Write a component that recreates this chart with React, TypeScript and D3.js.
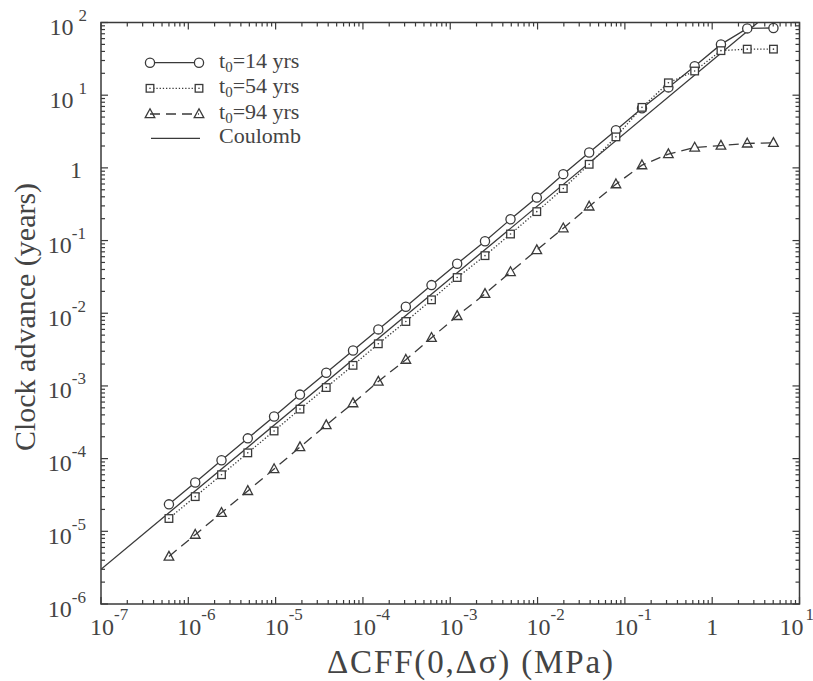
import React from "react";
import * as d3 from "d3";

// ΔCFF values (MPa) of the computed points
const stressMPa = [
  6.0e-7, 1.2e-6, 2.4e-6, 4.8e-6, 9.6e-6, 1.9e-5, 3.8e-5, 7.7e-5, 1.5e-4, 3.1e-4,
  6.1e-4, 1.2e-3, 2.5e-3, 4.9e-3, 9.8e-3, 0.0197, 0.039, 0.079, 0.157, 0.315,
  0.63, 1.26, 2.52, 5.03,
];
// clock advance (years) for t0 = 14 yrs
const advance14 = [
  2.35e-5, 4.7e-5, 9.5e-5, 1.9e-4, 3.8e-4, 7.6e-4, 1.52e-3, 3.08e-3, 6.0e-3, 0.0123,
  0.0244, 0.048, 0.098, 0.196, 0.39, 0.82, 1.63, 3.3, 6.6, 12.8,
  25, 50, 83, 84,
];
// t0 = 54 yrs
const advance54 = [
  1.5e-5, 3.0e-5, 6.0e-5, 1.2e-4, 2.4e-4, 4.8e-4, 9.5e-4, 1.92e-3, 3.8e-3, 7.7e-3,
  0.0153, 0.031, 0.062, 0.123, 0.25, 0.52, 1.12, 2.67, 6.8, 14.8,
  21.5, 41, 43, 43,
];
// t0 = 94 yrs
const advance94 = [
  4.5e-6, 9.0e-6, 1.8e-5, 3.6e-5, 7.2e-5, 1.44e-4, 2.9e-4, 5.8e-4, 1.15e-3, 2.3e-3,
  4.6e-3, 9.2e-3, 0.0185, 0.037, 0.074, 0.148, 0.295, 0.597, 1.09, 1.55,
  1.91, 2.03, 2.17, 2.21,
];
// Coulomb reference line
const coulombStress = [1e-7, 10];
const coulombAdvance = [3e-6, 300];

const xTickExps = [-7, -6, -5, -4, -3, -2, -1, 0, 1];
const yTickExps = [-6, -5, -4, -3, -2, -1, 0, 1, 2];
const legendLabels = ["14", "54", "94"];

const INK = "#3a3a3a";
const TXT = "#444";
const FONT = "Liberation Serif, Times New Roman, Times, serif";

export default function App() {
  const W = 813;
  const H = 681;
  const L = 101, R = 799.5, T = 22.5, B = 604;
  const x = d3.scaleLog().domain([1e-7, 10]).range([L, R]);
  const y = d3.scaleLog().domain([1e-6, 100]).range([B, T]);

  const line = d3
    .line<[number, number]>()
    .x((d) => x(d[0]))
    .y((d) => y(d[1]));

  const zip = (a: number[], b: number[]) => a.map((v, i) => [v, b[i]] as [number, number]);
  const s14 = zip(stressMPa, advance14);
  const s54 = zip(stressMPa, advance54);
  const s94 = zip(stressMPa, advance94);
  const coul = zip(coulombStress, coulombAdvance);

  const xMinor: number[] = [];
  xTickExps.slice(0, -1).forEach((e) => {
    for (let m = 2; m <= 9; m++) xMinor.push(m * Math.pow(10, e));
  });
  const yMinor: number[] = [];
  yTickExps.slice(0, -1).forEach((e) => {
    for (let m = 2; m <= 9; m++) yMinor.push(m * Math.pow(10, e));
  });
  const MJ = 7, MN = 4;

  const circle = (cx: number, cy: number, k: string) => (
    <circle key={k} cx={cx} cy={cy} r={4.6} fill="white" stroke={INK} strokeWidth={1.3} />
  );
  const square = (cx: number, cy: number, k: string) => (
    <g key={k}>
      <rect x={cx - 3.8} y={cy - 3.8} width={7.6} height={7.6} fill="white" stroke={INK} strokeWidth={1.3} />
      <circle cx={cx} cy={cy} r={0.8} fill={INK} />
    </g>
  );
  const tri = (cx: number, cy: number, k: string) => (
    <path
      key={k}
      d={`M${cx},${cy - 5.2}L${cx + 4.8},${cy + 3.6}L${cx - 4.8},${cy + 3.6}Z`}
      fill="none"
      stroke={INK}
      strokeWidth={1.3}
    />
  );

  const xLabel = (e: number) => {
    const px = x(Math.pow(10, e));
    if (e === 0)
      return (
        <text key={e} x={px} y={635} textAnchor="middle" fontSize={24}>
          1
        </text>
      );
    return (
      <text key={e} x={e > 0 ? px - 20 : px - 11} y={635} fontSize={24}>
        10
        <tspan fontSize={17} dy={-15} dx={e > 0 ? 2 : 0}>
          {e}
        </tspan>
      </text>
    );
  };
  const yLabel = (e: number) => {
    const py = y(Math.pow(10, e));
    if (e === 0)
      return (
        <text key={e} x={82} y={py + 10.5} textAnchor="end" fontSize={24}>
          1
        </text>
      );
    return (
      <text key={e} x={e > 0 ? 87 : 86} y={py + 12.5} textAnchor="end" fontSize={24}>
        10
        <tspan fontSize={17} dy={-14} dx={e > 0 ? 5 : 0}>
          {e}
        </tspan>
      </text>
    );
  };

  const legendRows = [62.7, 88.3, 114, 138.3];

  return (
    <svg
      width={W}
      height={H}
      style={{ position: "absolute", left: 0, top: 0, background: "white", fontFamily: FONT }}
      fill={TXT}
    >
      <defs>
        <clipPath id="plotClip">
          <rect x={L} y={T} width={R - L} height={B - T} />
        </clipPath>
      </defs>
      <rect width={W} height={H} fill="white" />

      <g clipPath="url(#plotClip)" fill="none" stroke={INK} strokeWidth={1.3}>
        <path d={line(coul) || ""} />
        <path d={line(s14) || ""} />
        <path d={line(s54) || ""} strokeDasharray="1.3,1.9" />
        <path d={line(s94) || ""} strokeDasharray="10,6" />
      </g>
      <g>
        {s14.map((d, i) => circle(x(d[0]), y(d[1]), "c" + i))}
        {s54.map((d, i) => square(x(d[0]), y(d[1]), "s" + i))}
        {s94.map((d, i) => tri(x(d[0]), y(d[1]), "t" + i))}
      </g>

      <rect x={L} y={T} width={R - L} height={B - T} fill="none" stroke={INK} strokeWidth={1.5} />
      <g stroke={INK} strokeWidth={1.2}>
        {xTickExps.map((e) => {
          const px = x(Math.pow(10, e));
          return (
            <g key={"xt" + e}>
              <line x1={px} x2={px} y1={B} y2={B - MJ} />
              <line x1={px} x2={px} y1={T} y2={T + MJ} />
            </g>
          );
        })}
        {xMinor.map((v, i) => {
          const px = x(v);
          return (
            <g key={"xm" + i}>
              <line x1={px} x2={px} y1={B} y2={B - MN} />
              <line x1={px} x2={px} y1={T} y2={T + MN} />
            </g>
          );
        })}
        {yTickExps.map((e) => {
          const py = y(Math.pow(10, e));
          return (
            <g key={"yt" + e}>
              <line x1={L} x2={L + MJ} y1={py} y2={py} />
              <line x1={R} x2={R - MJ} y1={py} y2={py} />
            </g>
          );
        })}
        {yMinor.map((v, i) => {
          const py = y(v);
          return (
            <g key={"ym" + i}>
              <line x1={L} x2={L + MN} y1={py} y2={py} />
              <line x1={R} x2={R - MN} y1={py} y2={py} />
            </g>
          );
        })}
      </g>

      <g>{xTickExps.map(xLabel)}</g>
      <g>{yTickExps.map(yLabel)}</g>

      <text x={327} y={673} fontSize={33} textLength={286} lengthAdjust="spacing">
        ΔCFF(0,Δσ) (MPa)
      </text>
      <text transform="translate(35,317) rotate(-90)" textAnchor="middle" fontSize={30}>
        Clock advance (years)
      </text>

      <g>
        {legendLabels.map((lab, i) => {
          const ry = legendRows[i];
          const dash = i === 0 ? undefined : i === 1 ? "1.3,1.9" : "10,6";
          const mk = i === 0 ? circle : i === 1 ? square : tri;
          return (
            <g key={"lg" + i}>
              <line x1={150} x2={199} y1={ry} y2={ry} stroke={INK} strokeWidth={1.3} strokeDasharray={dash} />
              {mk(150, ry, "a")}
              {mk(199, ry, "b")}
              <text x={219} y={ry + 5} fontSize={22}>
                t
                <tspan fontSize={15} dy={4}>
                  0
                </tspan>
                <tspan dy={-4}>={lab} yrs</tspan>
              </text>
            </g>
          );
        })}
        <line x1={151} x2={200} y1={legendRows[3]} y2={legendRows[3]} stroke={INK} strokeWidth={1.3} />
        <text x={219} y={legendRows[3] + 5} fontSize={22}>
          Coulomb
        </text>
      </g>
    </svg>
  );
}
